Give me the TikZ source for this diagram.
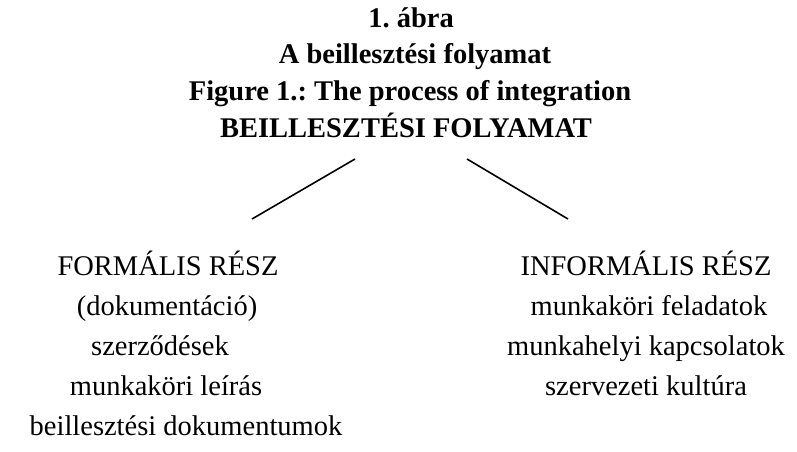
\documentclass[tikz,border=0pt]{standalone}
\usepackage{fontspec}
\setmainfont{Liberation Serif}
\usetikzlibrary{positioning}
\frenchspacing

\begin{document}
\begin{tikzpicture}[x=1pt,y=-1pt,
    cim/.style={font=\fontsize{28.5}{37}\selectfont\bfseries,inner sep=0pt,anchor=base},
    sor/.style={font=\fontsize{28.5}{40}\selectfont,inner sep=0pt,anchor=base}]
  \useasboundingbox (0,0) rectangle (797,451);
  % title
  \draw(411,27) node[cim] (T1) {1. ábra};
  \draw(415,63) node[cim] (T2) {A beillesztési folyamat};
  \draw(410,100) node[cim] (T3) {Figure 1.: The process of integration};
  \draw(406,137) node[cim] (T4) {BEILLESZTÉSI FOLYAMAT};
  % left branch
  \draw(168,275) node[sor] (F1) {FORMÁLIS RÉSZ};
  \draw(167,315) node[sor] (F2) {(dokumentáció)};
  \draw(160,355) node[sor] (F3) {szerződések};
  \draw(166,395) node[sor] (F4) {munkaköri leírás};
  \draw(186,435) node[sor] (F5) {beillesztési dokumentumok};
  % right branch
  \draw(646,275) node[sor] (I1) {INFORMÁLIS RÉSZ};
  \draw(649,315) node[sor] (I2) {munkaköri feladatok};
  \draw(646,355) node[sor] (I3) {munkahelyi kapcsolatok};
  \draw(646,395) node[sor] (I4) {szervezeti kultúra};
  \coordinate (LA) at (355,159);
  \coordinate (LB) at (252,219);
  \coordinate (RA) at (467,159);
  \coordinate (RB) at (568,219);
  \draw[line width=1.6pt] (LA) -- (LB);
  \draw[line width=1.6pt] (RA) -- (RB);
\end{tikzpicture}
\end{document}
